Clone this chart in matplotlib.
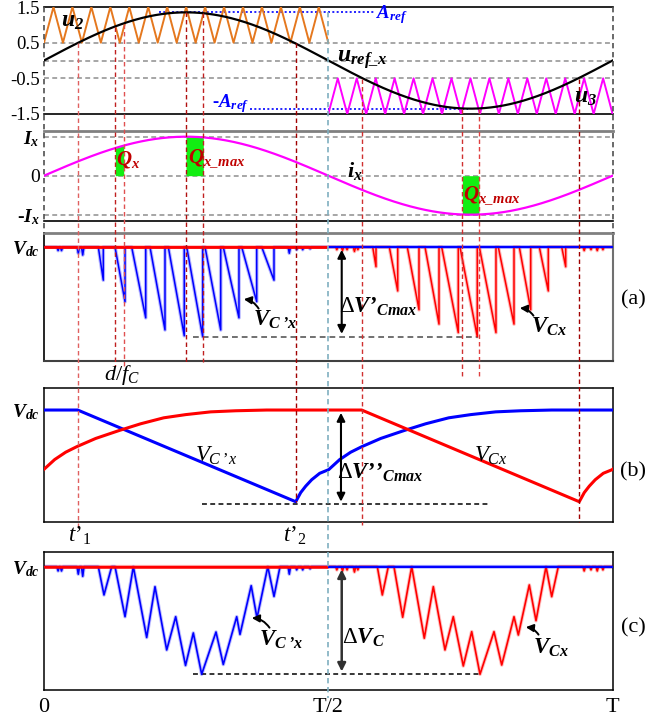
import numpy as np
import matplotlib
matplotlib.use("Agg")
import matplotlib.pyplot as plt
from matplotlib.patches import FancyArrowPatch

plt.rcParams['font.family'] = ['Liberation Serif', 'DejaVu Serif']
plt.rcParams['mathtext.fontset'] = 'custom'
plt.rcParams['mathtext.rm'] = 'Liberation Serif'
plt.rcParams['mathtext.it'] = 'Liberation Serif:italic'
plt.rcParams['mathtext.bf'] = 'Liberation Serif:bold'
plt.rcParams['mathtext.bfit'] = 'Liberation Serif:italic:bold'

# ---------------------------------------------------------------- data
# time is expressed as a fraction of the fundamental period T
A_REF = 1.35                 # modulation reference amplitude
CARRIER_CYCLES_HALF = 15     # carrier periods per half cycle
t_p1, t_p2 = 0.0593, 0.4427  # t'1, t'2
t_p1_neg, t_p2_neg = 0.5587, 0.9414
qx_win = (0.1254, 0.1402)
qx_max_pos = (0.2497, 0.2802)
qx_max_neg = (0.7357, 0.7650)

# (a) capacitor voltage dips: start time, time of minimum, depth (per unit of max dip)
blue_a_start = [0.0955, 0.1249, 0.1542, 0.1864, 0.2186, 0.2510, 0.2832, 0.3153, 0.3477, 0.3829]
blue_a_min = [0.1043, 0.1425, 0.1789, 0.2128, 0.2467, 0.2791, 0.3108, 0.3429, 0.3741, 0.4045]
blue_a_depth = [0.37, 0.61, 0.79, 0.925, 0.99, 1.00, 0.925, 0.79, 0.61, 0.37]
red_a_start = [0.5781, 0.6073, 0.6389, 0.6701, 0.6994, 0.7316, 0.7656, 0.7990, 0.8359, 0.8711, 0.9105]
red_a_min = [0.5839, 0.6221, 0.6595, 0.6947, 0.7286, 0.7620, 0.7949, 0.8266, 0.8560, 0.8869, 0.9175]
red_a_depth = [0.22, 0.49, 0.70, 0.86, 0.955, 1.00, 0.955, 0.86, 0.70, 0.49, 0.22]
# small ripples near the DC level: time, depth
blue_blip_t = [0.0248, 0.0308, 0.0603, 0.0681, 0.4314, 0.4444, 0.4550, 0.4680]
blue_blip_d = [0.04, 0.04, 0.07, 0.09, 0.07, 0.03, 0.03, 0.02]
red_blip_t = [0.5150, 0.5250, 0.5330, 0.5460, 0.5520, 0.9500, 0.9620, 0.9730, 0.9830]
red_blip_d = [0.03, 0.04, 0.03, 0.05, 0.03, 0.04, 0.03, 0.04, 0.03]

# (b) recovery of the capacitor voltage after t'2: elapsed time, depth
recov_dt = [0.0, 0.0088, 0.0176, 0.0281, 0.0422, 0.0580, 0.0774, 0.0967, 0.1161, 0.1495,
            0.1900, 0.2286, 0.2691, 0.3078, 0.3517, 0.3957, 0.4502, 0.6000]
recov_d = [1.0, 0.90, 0.83, 0.76, 0.69, 0.65, 0.54, 0.46, 0.40, 0.31,
           0.225, 0.15, 0.085, 0.05, 0.02, 0.008, 0.0, 0.0]

# (c) capacitor voltage vertices: time, depth
blue_c_t = [0.0955, 0.1055, 0.1191, 0.1249, 0.1425, 0.1571, 0.1806, 0.1952, 0.2158, 0.2316, 0.2489,
            0.2626, 0.2773, 0.3025, 0.3153, 0.3389, 0.3447, 0.3644, 0.3746, 0.3936, 0.4045, 0.4151]
blue_c_d = [0.0, 0.263, 0.0, 0.0, 0.465, 0.0, 0.658, 0.186, 0.774, 0.465, 0.918,
            0.616, 1.0, 0.607, 0.909, 0.465, 0.630, 0.177, 0.477, 0.0, 0.277, 0.0]
red_c_t = [0.5862, 0.5950, 0.6055, 0.6155, 0.6308, 0.6467, 0.6688, 0.6847, 0.7052, 0.7198, 0.7374,
           0.7522, 0.7668, 0.7914, 0.8050, 0.8266, 0.8342, 0.8535, 0.8653, 0.8829, 0.8929, 0.9045]
red_c_d = [0.0, 0.263, 0.0, 0.0, 0.470, 0.0, 0.665, 0.186, 0.774, 0.465, 0.923,
           0.604, 1.0, 0.604, 0.914, 0.465, 0.635, 0.170, 0.502, 0.0, 0.279, 0.0]

# ---------------------------------------------------------------- style
ORANGE = '#E5781E'
MAGENTA = '#FF00FF'
BLUE = '#0000FF'
RED = '#FF0000'
DKRED = '#C00000'
GREEN = '#12EE12'
GREY = '#8E8E8E'
CYAN = '#7FAFC0'
DASH = (0, (3.2, 2.2))

W, H = 646, 717
X0, XW = 44, 568.6
fig = plt.figure(figsize=(W / 100, H / 100), dpi=100)


def panel(top, bottom, ylim):
    ax = fig.add_axes([X0 / W, 1 - bottom / H, XW / W, (bottom - top) / H])
    ax.set_xlim(0, 1)
    ax.set_ylim(*ylim)
    ax.set_xticks([])
    ax.tick_params(axis='y', length=0, pad=3)
    ax.patch.set_alpha(0)
    return ax


def dip_series(starts, mins, depths, blip_t, blip_d, w=0.0022):
    pts = [(0.0, 0.0)]
    events = [(s, [(s, 0.0), (m, -d), (m, 0.0)]) for s, m, d in zip(starts, mins, depths)]
    events += [(b - w, [(b - w, 0.0), (b, -d), (b + w, 0.0)]) for b, d in zip(blip_t, blip_d)]
    for _, seg in sorted(events, key=lambda e: e[0]):
        pts.extend(seg)
    pts.append((1.0, 0.0))
    arr = np.array(pts)
    return arr[:, 0], arr[:, 1]


def add_blips(t, d, bt, bd, w=0.0022):
    pts = list(zip(t, d))
    for b, dd in zip(bt, bd):
        pts += [(b - w, 0.0), (b, dd), (b + w, 0.0)]
    pts.sort(key=lambda p: p[0])
    arr = np.array(pts)
    return arr[:, 0], arr[:, 1]


# ---------------------------------------------------------------- top: modulation
ax1 = panel(7, 114, (-1.5, 1.5))
tt = np.linspace(0, 1, 721)
for y in (0.5, 0.0, -0.5):
    ax1.axhline(y, color=GREY, lw=1.1, ls=DASH, zorder=1)
k = np.arange(2 * CARRIER_CYCLES_HALF + 1)
tc = k / (4 * CARRIER_CYCLES_HALF)
u2 = 0.5 + (k % 2)
ax1.plot(tc, u2, color=ORANGE, lw=1.4, zorder=3)
ax1.plot(tc + 0.5, u2 - 2.0, color=MAGENTA, lw=1.4, zorder=3)
ax1.plot(tt, A_REF * np.sin(2 * np.pi * tt), color='black', lw=1.6, zorder=4)
ax1.hlines(A_REF, 0.2027, 0.5821, color=BLUE, lw=1.2, ls=(0, (1.2, 1.4)), zorder=2)
ax1.hlines(-A_REF, 0.3623, 0.7449, color=BLUE, lw=1.2, ls=(0, (1.2, 1.4)), zorder=2)
ax1.set_yticks([1.5, 0.5, -0.5, -1.5])
ax1.set_yticklabels(['1.5', '0.5', '-0.5', '-1.5'], fontsize=13.5)
for s in ('left', 'right'):
    ax1.spines[s].set_visible(False)
ax1.spines['top'].set_linewidth(1.2)
ax1.spines['bottom'].set_linewidth(1.2)

# ---------------------------------------------------------------- current
ax2 = panel(131, 221.3, (-1.17, 1.146))
for y in (1.0, 0.0, -1.0):
    ax2.axhline(y, color=GREY, lw=1.1, ls=DASH, zorder=1)
ax2.plot(tt, np.sin(2 * np.pi * tt), color=MAGENTA, lw=1.6, zorder=4)
for a, b in (qx_win, qx_max_pos, qx_max_neg):
    tw = np.linspace(a, b, 30)
    ax2.fill_between(tw, 0, np.sin(2 * np.pi * tw), color=GREEN, lw=0, zorder=2)
ax2.set_yticks([1.0, 0.0, -1.0])
ax2.set_yticklabels(['$\\mathbfit{I}_{\\mathbfit{x}}$', '0', '-$\\mathbfit{I}_{\\mathbfit{x}}$'],
                    fontsize=14)
ax2.get_yticklabels()[2].set_fontweight('bold')
for s in ('left', 'right'):
    ax2.spines[s].set_visible(False)
ax2.spines['top'].set_color('#808080')
ax2.spines['top'].set_linewidth(2.0)
ax2.spines['bottom'].set_linewidth(1.2)

# ---------------------------------------------------------------- (a)
axa = panel(233.3, 360.7, (-1.268, 0.153))
bt, bd = dip_series(blue_a_start, blue_a_min, blue_a_depth, blue_blip_t, blue_blip_d)
rt, rd = dip_series(red_a_start, red_a_min, red_a_depth, red_blip_t, red_blip_d)
axa.plot(bt, bd, color='#7F7FFF', lw=2.6, alpha=0.55, zorder=2)
axa.plot(bt, bd, color=BLUE, lw=1.1, zorder=3)
axa.plot(rt, rd, color='#FF8080', lw=2.6, alpha=0.55, zorder=2)
axa.plot(rt, rd, color=RED, lw=1.1, zorder=3)
axa.hlines(0, 0, 0.5, color=RED, lw=2.0, zorder=4)
axa.hlines(0, 0.5, 1, color=BLUE, lw=1.6, zorder=4)
axa.hlines(-1.0, 0.2614, 0.7632, color='#666666', lw=1.3, ls=DASH, zorder=2)
axa.annotate('', xy=(0.5236, -1.0), xytext=(0.5236, 0.0),
             arrowprops=dict(arrowstyle='<|-|>', color='black', lw=1.5, mutation_scale=12))
axa.set_yticks([0])
axa.set_yticklabels(['$\\mathbfit{V}_{\\mathbfit{dc}}$'], fontsize=14)
axa.spines['top'].set_color('#808080')
axa.spines['top'].set_linewidth(2.0)
axa.spines['right'].set_color('#707070')
axa.spines['right'].set_linewidth(1.5)
axa.spines['bottom'].set_color('#404040')
axa.spines['bottom'].set_linewidth(1.5)
axa.spines['left'].set_linewidth(1.2)

# ---------------------------------------------------------------- (b)
axb = panel(388.3, 521.7, (-1.218, 0.237))
rdt = np.array(recov_dt)
rdd = np.array(recov_d)
# blue: flat, linear discharge t'1 -> t'2, then recovery
b_t = [0.0, t_p1, t_p2] + [t_p2 + d for d in rdt[1:] if t_p2 + d < 1.0] + [1.0]
b_d = [0.0, 0.0, 1.0] + [v for d, v in zip(rdt[1:], rdd[1:]) if t_p2 + d < 1.0] \
      + [np.interp(1.0 - t_p2, rdt, rdd)]
axb.plot(b_t, -np.array(b_d), color=BLUE, lw=2.2, zorder=3, solid_joinstyle='round')
# red: same waveform shifted by half a period
lag = 1.0 - t_p2_neg
r_t = [0.0] + [d - lag for d in rdt if 0 < d - lag < t_p1_neg] + [t_p1_neg, t_p2_neg] \
      + [t_p2_neg + d for d in rdt[1:] if t_p2_neg + d < 1.0] + [1.0]
r_d = [np.interp(lag, rdt, rdd)] + [v for d, v in zip(rdt, rdd) if 0 < d - lag < t_p1_neg] + [0.0, 1.0] \
      + [v for d, v in zip(rdt[1:], rdd[1:]) if t_p2_neg + d < 1.0] + [np.interp(1.0 - t_p2_neg, rdt, rdd)]
axb.plot(r_t, -np.array(r_d), color=RED, lw=2.2, zorder=3, solid_joinstyle='round')
axb.hlines(-1.03, 0.2774, 0.7844, color='black', lw=1.1, ls=DASH, zorder=2)
axb.annotate('', xy=(0.5223, -1.03), xytext=(0.5223, 0.0),
             arrowprops=dict(arrowstyle='<|-|>', color='black', lw=1.5, mutation_scale=12))
axb.set_yticks([0])
axb.set_yticklabels(['$\\mathbfit{V}_{\\mathbfit{dc}}$'], fontsize=14)
for s in axb.spines.values():
    s.set_linewidth(1.1)

# ---------------------------------------------------------------- (c)
axc = panel(551.7, 690, (-1.146, 0.139))
ct, cd = add_blips([0.0] + blue_c_t + [1.0], [0.0] + blue_c_d + [0.0], blue_blip_t, blue_blip_d)
axc.plot(ct, -cd, color='#7F7FFF', lw=2.6, alpha=0.5, zorder=2)
axc.plot(ct, -cd, color=BLUE, lw=1.2, zorder=3)
ct, cd = add_blips([0.0] + red_c_t + [1.0], [0.0] + red_c_d + [0.0], red_blip_t, red_blip_d)
axc.plot(ct, -cd, color='#FF8080', lw=2.6, alpha=0.5, zorder=2)
axc.plot(ct, -cd, color=RED, lw=1.2, zorder=3)
axc.hlines(0, 0, 0.5, color=RED, lw=1.8, zorder=4)
axc.hlines(0, 0.5, 1, color=BLUE, lw=1.6, zorder=4)
axc.hlines(-1.0, 0.2614, 0.7668, color='black', lw=1.1, ls=DASH, zorder=2)
axc.annotate('', xy=(0.5236, -1.0), xytext=(0.5236, 0.0),
             arrowprops=dict(arrowstyle='<|-|>', color='#303030', lw=1.8, mutation_scale=12))
axc.set_yticks([0])
axc.set_yticklabels(['$\\mathbfit{V}_{\\mathbfit{dc}}$'], fontsize=14)
axc.set_xticks([0, 0.5, 1])
axc.set_xticklabels(['0', 'T/2', 'T'], fontsize=16)
axc.tick_params(axis='x', length=0, pad=6)
for s in axc.spines.values():
    s.set_linewidth(1.1)

# ---------------------------------------------------------------- overlay: guide lines and labels
ov = fig.add_axes([0, 0, 1, 1], zorder=10)
ov.set_xlim(-X0 / XW, (W - X0) / XW)
ov.set_ylim(H, 0)
ov.axis('off')
ov.patch.set_alpha(0)

guides = [  # time, top px, bottom px, colour
    (t_p1, 43, 530, '#E06060'),
    (qx_win[0], 27, 366, '#C02020'),
    (qx_win[1], 24, 366, '#E05050'),
    (qx_max_pos[0], 12, 362, '#B01010'),
    (qx_max_pos[1], 13, 362, '#C02020'),
    (t_p2, 43, 502, '#A00000'),
    (t_p1_neg, 79, 525, '#D03030'),
    (qx_max_neg[0], 109, 376, '#D03030'),
    (qx_max_neg[1], 109, 376, '#E04040'),
    (t_p2_neg, 79, 522, '#A00000'),
]
for t, y0, y1, c in guides:
    ov.vlines(t, y0, y1, color=c, lw=1.0, ls=DASH)
ov.vlines(0.5, 12, 698, color=CYAN, lw=1.2, ls=DASH)
ov.vlines([0.0, 1.0], 7, 233, color='#505050', lw=1.2, ls=DASH)


def px(x):
    return (x - X0) / XW


def lab(x, y, s, size=14, color='black', **kw):
    ov.text(px(x), y, s, fontsize=size, color=color, ha='center', va='center', **kw)


def curved(x0, y0, x1, y1, rad=0.3):
    ov.add_patch(FancyArrowPatch((px(x0), y0), (px(x1), y1), arrowstyle='-|>',
                                 connectionstyle=f'arc3,rad={rad}', color='black',
                                 lw=1.4, mutation_scale=11))


lab(73, 21, '$\\mathbfit{u}_{\\mathbfit{2}}$', 17)
lab(362, 60, '$\\mathbfit{u}_{\\mathbfit{ref\\_x}}$', 17)
lab(586, 97, '$\\mathbfit{u}_{\\mathbfit{3}}$', 17)
lab(392, 15, '$\\mathbfit{A}_{\\mathbfit{ref}}$', 13.5, BLUE)
lab(231, 104, '-$\\mathbfit{A}_{\\mathbfit{ref}}$', 13.5, BLUE, fontweight='bold')
lab(355, 171, '$\\mathbfit{i}_{\\mathbfit{x}}$', 16)
lab(128, 160, '$\\mathbfit{Q}_{\\mathbfit{x}}$', 15, DKRED)
lab(217, 158, '$\\mathbfit{Q}_{\\mathbfit{x\\_max}}$', 15, DKRED)
lab(492, 195, '$\\mathbfit{Q}_{\\mathbfit{x\\_max}}$', 15, DKRED)

lab(275, 320, '$\\mathbfit{V}_{\\mathbfit{C\u2009\u2019x}}$', 16.5)
curved(260, 311, 241, 299, 0.3)
lab(549, 327, '$\\mathbfit{V}_{\\mathbfit{Cx}}$', 16.5)
curved(535, 318, 517, 308, 0.3)
lab(378, 307, '$\\Delta\\mathbfit{V\u2019}_{\\mathbfit{Cmax}}$', 16.5)
lab(633, 300, '(a)', 16)
lab(122, 375, '$\\mathit{d/f}_{\\mathit{C}}$', 16)

lab(216, 456, '$\\mathit{V}_{\\mathit{C\u2009\u2019x}}$', 16.5)
lab(491, 456, '$\\mathit{V}_{\\mathit{Cx}}$', 16.5)
lab(380, 473, '$\\Delta\\mathbfit{V\u2019\u2019}_{\\mathbfit{Cmax}}$', 16.5)
lab(633, 472, '(b)', 16)
lab(80, 536, "$\\mathit{t\u2019}_{\\mathit{1}}$", 16.5)
lab(295, 536, "$\\mathit{t\u2019}_{\\mathit{2}}$", 16.5)

lab(281, 640, '$\\mathbfit{V}_{\\mathbfit{C\u2009\u2019x}}$', 16.5)
curved(271, 630, 249, 618, 0.3)
lab(551, 648, '$\\mathbfit{V}_{\\mathbfit{Cx}}$', 16.5)
curved(540, 637, 523, 627, 0.3)
lab(363, 638, '$\\Delta\\mathbfit{V}_{\\mathbfit{C}}$', 16.5)
lab(633, 628, '(c)', 16)

fig.savefig('out.png', dpi=100)
